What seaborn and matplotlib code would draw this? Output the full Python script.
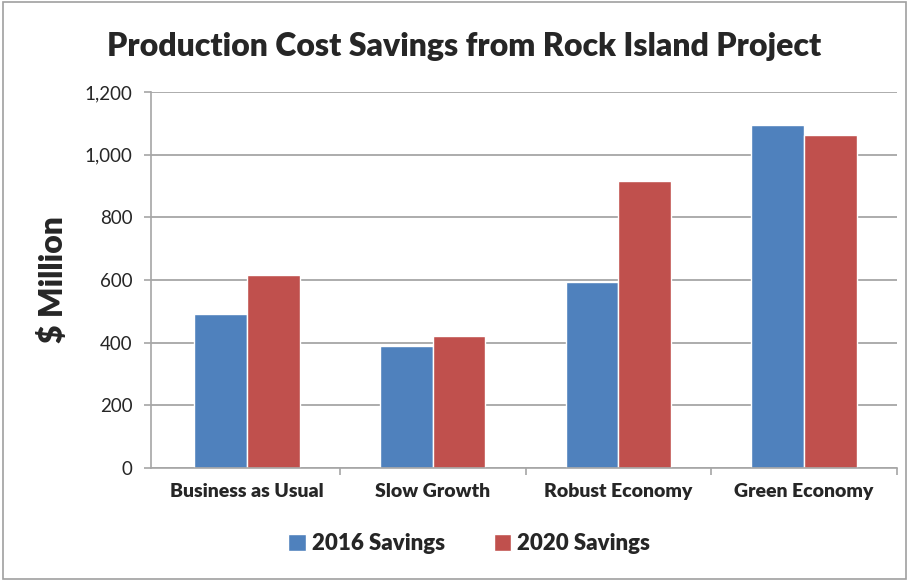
import matplotlib
matplotlib.use("Agg")
import matplotlib.pyplot as plt
import seaborn as sns
import pandas as pd
import numpy as np
from matplotlib.patches import Rectangle

categories = ["Business as Usual", "Slow Growth", "Robust Economy", "Green Economy"]
series_names = ["2016 Savings", "2020 Savings"]
savings_2016 = [490, 389, 593, 1096]
savings_2020 = [615, 421, 915, 1062]
y_ticks = [0, 200, 400, 600, 800, 1000, 1200]

df = pd.DataFrame({
    "Scenario": categories * 2,
    "Series": [series_names[0]] * 4 + [series_names[1]] * 4,
    "Value": savings_2016 + savings_2020,
})

sns.set_style("white")
plt.rcParams['font.family'] = ['Lato', 'DejaVu Sans']

fig = plt.figure(figsize=(9.09, 5.81), dpi=100)
ax = fig.add_axes([150.5/909, 1-468/581, 746.3/909, 376/581])

palette = {"2016 Savings": "#4F81BD", "2020 Savings": "#C0504D"}
sns.barplot(data=df, x="Scenario", y="Value", hue="Series", palette=palette,
            width=0.566, ax=ax, saturation=1, legend=True)

ax.set_ylim(0, 1200)
ax.set_xlim(-0.52, 3.5)
ax.set_yticks(y_ticks)
ax.set_yticklabels([f"{v:,}" for v in y_ticks], fontsize=13.5)
ax.yaxis.grid(True, color="#A6A6A6", linewidth=1.3)
ax.set_axisbelow(True)
for s in ["top", "right"]:
    ax.spines[s].set_visible(False)
for s in ["left", "bottom"]:
    ax.spines[s].set_color("#A6A6A6")
    ax.spines[s].set_linewidth(1.2)
ax.tick_params(axis="y", which="major", length=5, color="#A6A6A6", width=1.2, pad=8, left=True)
ax.tick_params(axis="x", which="major", length=0, pad=11, labelsize=14)
for lbl in ax.get_xticklabels():
    lbl.set_fontweight("heavy")
ax.set_xticks([0.5, 1.5, 2.5, 3.5], minor=True)
ax.tick_params(axis="x", which="minor", length=5, color="#A6A6A6", width=1.2, bottom=True)
ax.set_xlabel("")
ax.set_ylabel("$ Million", fontsize=23, fontweight="heavy", labelpad=12)

leg = ax.legend(loc="upper center", bbox_to_anchor=(0.427, -0.12), ncol=2, frameon=False,
                prop={"weight": "heavy", "size": 16}, handlelength=0.8, handleheight=0.8,
                handletextpad=0.25, columnspacing=2.2)

fig.suptitle("Production Cost Savings from Rock Island Project", x=0.511, y=0.945,
             fontsize=23, fontweight="heavy")

fig.patches.append(Rectangle((0.003, 0.003), 0.994, 0.994, transform=fig.transFigure,
                             fill=False, edgecolor="#A0A0A0", linewidth=1.2))

fig.savefig("out.png", dpi=100)
